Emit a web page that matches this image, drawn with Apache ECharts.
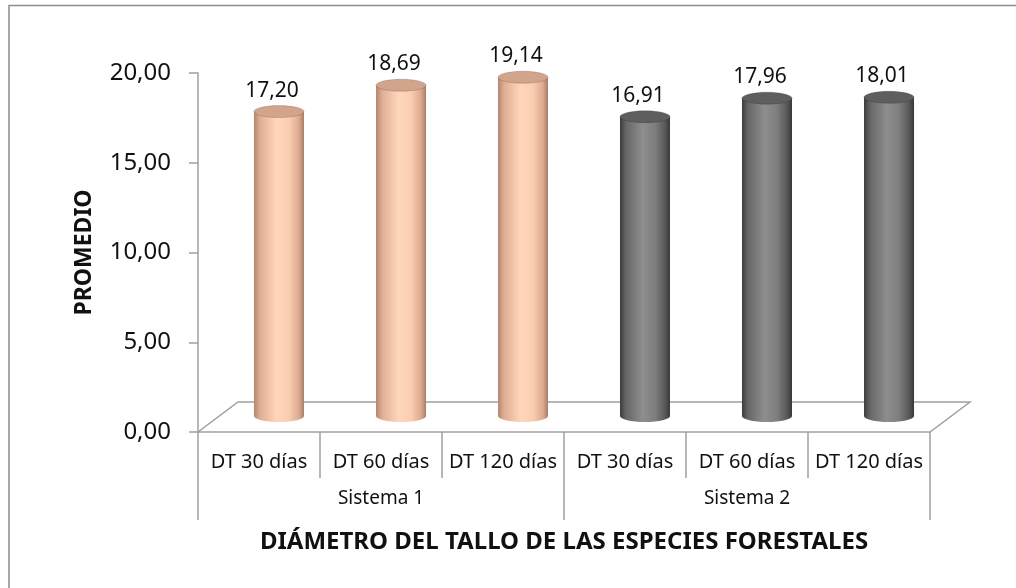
<!DOCTYPE html>
<html style="height: 100%">
<head>
    <meta charset="utf-8">
    <script src="https://cdn.jsdelivr.net/npm/echarts@6/dist/echarts.min.js"></script>
    <title>Diámetro del tallo</title>
</head>
<body style="height: 100%; margin: 0; background: #fff">
<div id="container" style="width: 1016px; height: 588px"></div>
<script type="text/javascript">

    let categories = ['DT 30 días', 'DT 60 días', 'DT 120 días', 'DT 30 días', 'DT 60 días', 'DT 120 días'];
    let groups = ['Sistema 1', 'Sistema 2'];
    let values = [17.20, 18.69, 19.14, 16.91, 17.96, 18.01];
    let groupOf = [0, 0, 0, 1, 1, 1];

    let font = 'Noto Sans';
    let ink = '#111';
    let fmt = v => v.toFixed(2).replace('.', ',');

    // cylinder shading per group
    let looks = [
        {
            side: ['#b48671', '#deae93', '#ffd6bb', '#fbcdb0', '#dca98d', '#a67e6a'],
            top: '#d2a48b'
        },
        {
            side: ['#3c3c3c', '#666666', '#8e8e8e', '#7e7e7e', '#585858', '#383838'],
            top: '#5e5e5e'
        }
    ];

    function sideGradient(stops) {
        let pos = [0, 0.12, 0.45, 0.7, 0.9, 1];
        return new echarts.graphic.LinearGradient(0, 0, 1, 0,
            stops.map((c, i) => ({offset: pos[i], color: c})));
    }

    // 3d depth of the floor
    let depthX = 40, depthY = 30;

    function renderFloor(params, api) {
        let cs = params.coordSys;
        let x0 = cs.x, x1 = cs.x + cs.width, y0 = cs.y + cs.height;
        return {
            type: 'polygon',
            shape: {points: [[x0, y0], [x1, y0], [x1 + depthX, y0 - depthY], [x0 + depthX, y0 - depthY]]},
            style: {fill: 'none', stroke: '#a0a0a0', lineWidth: 1.5},
            silent: true
        };
    }

    function renderCylinder(params, api) {
        let idx = api.value(0);
        let val = api.value(1);
        let base = api.coord([idx, 0]);
        let top = api.coord([idx, val]);
        let w = api.size([1, 0])[0] * 0.41;
        let cx = base[0] + depthX / 2;
        let yb = base[1] - 16;
        let yt = yb - (base[1] - top[1]) * 0.986;
        let rx = w / 2, ry = 6;
        let look = looks[groupOf[idx]];
        let grad = sideGradient(look.side);
        return {
            type: 'group',
            children: [
                {type: 'ellipse', shape: {cx: cx, cy: yb, rx: rx, ry: ry}, style: {fill: grad}},
                {type: 'rect', shape: {x: cx - rx, y: yt, width: w, height: yb - yt}, style: {fill: grad}},
                {type: 'ellipse', shape: {cx: cx, cy: yt, rx: rx, ry: ry},
                    style: {fill: look.top, stroke: 'rgba(0,0,0,0.15)', lineWidth: 1}},
                {type: 'text', x: cx - 7, y: yt - 21,
                    style: {text: fmt(val), fill: ink, font: '21px "' + font + '"',
                        align: 'center', verticalAlign: 'middle'}}
            ]
        };
    }

    let dom = document.getElementById('container');
    let chart = echarts.init(dom);
    chart.setOption({
        animation: false,
        grid: {left: 198, right: 86, top: 73, bottom: 156},
        graphic: [{
            type: 'polyline',
            shape: {points: [[9, 600], [9, 5.5], [1030, 5.5]]},
            style: {fill: 'none', stroke: '#8c8c8c', lineWidth: 1.5},
            silent: true
        }],
        xAxis: [
            {
                type: 'category',
                data: categories,
                axisLine: {show: false},
                axisTick: {show: true, length: 46, interval: 0, lineStyle: {color: '#a0a0a0', width: 1.5}},
                axisLabel: {margin: 20, color: ink, fontFamily: font, fontSize: 20, interval: 0}
            },
            {
                type: 'category',
                position: 'bottom',
                data: groups,
                axisLine: {show: false},
                axisTick: {show: true, length: 88, interval: 0, lineStyle: {color: '#a0a0a0', width: 1.5}},
                axisLabel: {margin: 57, color: ink, fontFamily: font, fontSize: 19},
                name: 'DIÁMETRO DEL TALLO DE LAS ESPECIES FORESTALES',
                nameLocation: 'middle',
                nameGap: 98,
                nameTextStyle: {color: ink, fontFamily: font, fontSize: 24, fontWeight: 'bold'}
            }
        ],
        yAxis: {
            type: 'value',
            min: 0, max: 20, interval: 5,
            axisLine: {show: true, lineStyle: {color: '#a0a0a0', width: 1.5}},
            axisTick: {show: true, length: 9, lineStyle: {color: '#a0a0a0', width: 1.5}},
            splitLine: {show: false},
            axisLabel: {formatter: fmt, margin: 27, color: ink, fontFamily: font, fontSize: 24},
            name: 'PROMEDIO',
            nameLocation: 'middle',
            nameRotate: 90,
            nameGap: 102,
            nameTextStyle: {color: ink, fontFamily: font, fontSize: 23, fontWeight: 'bold'}
        },
        series: [
            {
                type: 'custom',
                xAxisIndex: 0,
                renderItem: renderFloor,
                data: [[0, 0]],
                clip: false,
                silent: true,
                z: 1
            },
            {
                type: 'custom',
                xAxisIndex: 0,
                renderItem: renderCylinder,
                data: values.map((v, i) => [i, v]),
                encode: {x: 0, y: 1},
                clip: false,
                z: 2
            }
        ]
    });

</script>
</body>
</html>
